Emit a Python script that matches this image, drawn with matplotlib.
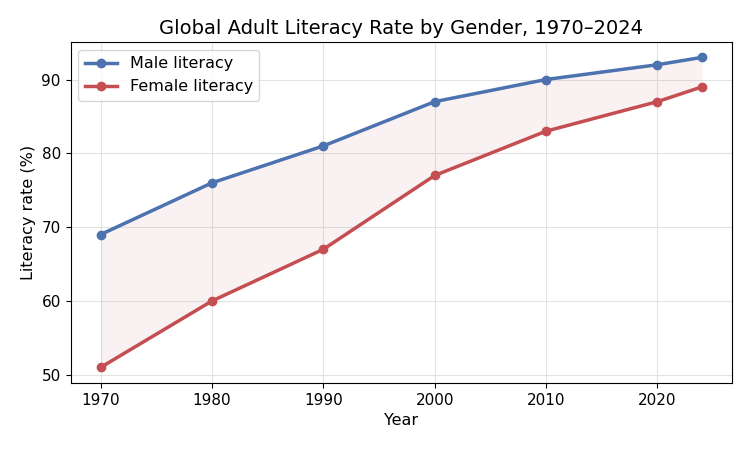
import matplotlib
matplotlib.use('Agg')
import matplotlib.pyplot as plt

# Data
years = [1970, 1980, 1990, 2000, 2010, 2020, 2024]
male = [69, 76, 81, 87, 90, 92, 93]
female = [51, 60, 67, 77, 83, 87, 89]

male_color = '#4C72B0'
female_color = '#C44E52'

fig, ax = plt.subplots(figsize=(7.5, 4.5), dpi=100)

ax.plot(years, male, marker='o', color=male_color, linewidth=2.5, markersize=6, label='Male literacy')
ax.plot(years, female, marker='o', color=female_color, linewidth=2.5, markersize=6, label='Female literacy')
ax.fill_between(years, female, male, color=female_color, alpha=0.07, linewidth=0)

ax.grid(True, color='#dddddd', linewidth=0.8, alpha=0.8)
ax.set_axisbelow(True)

ax.set_title('Global Adult Literacy Rate by Gender, 1970–2024', fontsize=14)
ax.set_xlabel('Year', fontsize=11.5)
ax.set_ylabel('Literacy rate (%)', fontsize=11.5)
ax.tick_params(labelsize=11)
ax.legend(loc='upper left', fontsize=11.5)

fig.subplots_adjust(left=0.094, right=0.976, top=0.907, bottom=0.149)
plt.savefig('out.png')
